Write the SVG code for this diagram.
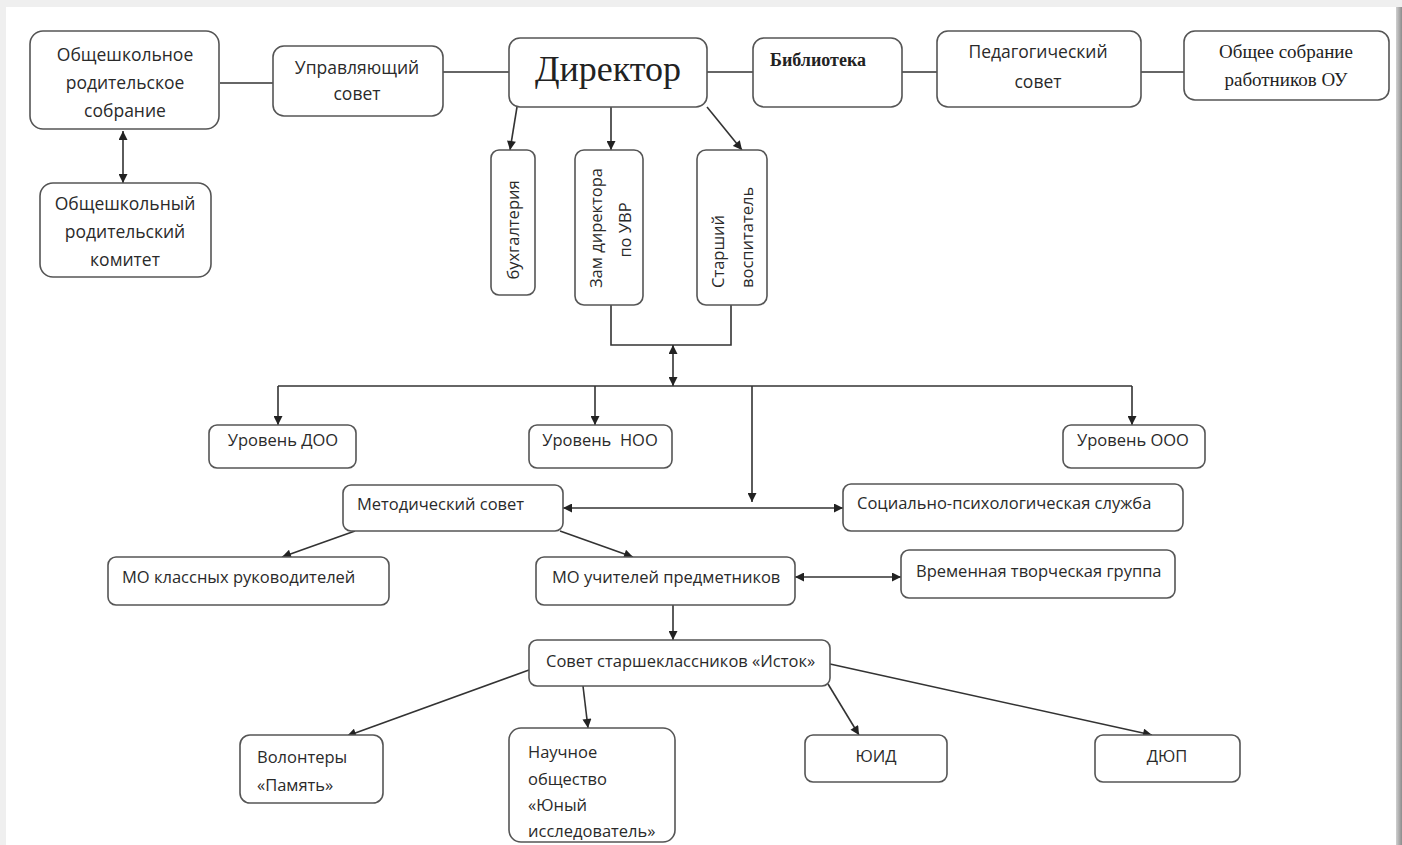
<svg xmlns="http://www.w3.org/2000/svg" width="1402" height="845" viewBox="0 0 1402 845">
<defs>
<linearGradient id="rs" x1="0" y1="0" x2="1" y2="0">
<stop offset="0" stop-color="#d0d0d0"/><stop offset="1" stop-color="#8c8c8c"/>
</linearGradient>
<marker id="ah" viewBox="0 0 10 10" refX="10" refY="5" markerWidth="10" markerHeight="9" markerUnits="userSpaceOnUse" orient="auto-start-reverse">
<path d="M0,0 L10,5 L0,10 z" fill="#222"/>
</marker>
<style>
.b{fill:#fff;stroke:#555;stroke-width:1.6}
.t{font-family:"Open Sans","Noto Sans",sans-serif;font-size:16.5px;fill:#2a2a2a}
.k{font-size:17.5px}
.c{text-anchor:middle}
.s{font-family:"Liberation Serif","DejaVu Serif",serif;fill:#222}
.l{stroke:#333;stroke-width:1.6;fill:none}
.a{marker-end:url(#ah)}
.d{marker-start:url(#ah);marker-end:url(#ah)}
</style>
</defs>
<rect x="0" y="0" width="1402" height="845" fill="#efefef"/>
<rect x="6" y="7" width="1390" height="838" fill="#fff"/>
<rect x="1396" y="7" width="6" height="838" fill="url(#rs)"/>

<g id="connectors">
<line class="l" x1="220" y1="83" x2="273" y2="83"/>
<line class="l" x1="443" y1="72" x2="509" y2="72"/>
<line class="l" x1="707" y1="72" x2="753" y2="72"/>
<line class="l" x1="902" y1="72" x2="937" y2="72"/>
<line class="l" x1="1141" y1="72" x2="1184" y2="72"/>
<line class="l d" x1="123" y1="131" x2="123" y2="183"/>
<line class="l a" x1="517" y1="107" x2="510" y2="150"/>
<line class="l a" x1="611" y1="107" x2="611" y2="150"/>
<line class="l a" x1="707" y1="107" x2="742" y2="150"/>
<polyline class="l" points="611,305 611,345 731,345 731,305"/>
<line class="l d" x1="673" y1="345" x2="673" y2="386"/>
<line class="l" x1="278" y1="386" x2="1132" y2="386"/>
<line class="l a" x1="278" y1="386" x2="278" y2="425"/>
<line class="l a" x1="595" y1="386" x2="595" y2="425"/>
<line class="l a" x1="1132" y1="386" x2="1132" y2="425"/>
<line class="l a" x1="752" y1="386" x2="752" y2="502"/>
<line class="l d" x1="563" y1="508" x2="843" y2="508"/>
<line class="l a" x1="355" y1="531" x2="282" y2="557"/>
<line class="l a" x1="560" y1="531" x2="633" y2="557"/>
<line class="l d" x1="795" y1="577" x2="901" y2="577"/>
<line class="l a" x1="673" y1="605" x2="673" y2="640"/>
<line class="l a" x1="529" y1="670" x2="347" y2="736"/>
<line class="l a" x1="583" y1="686" x2="588" y2="728"/>
<line class="l a" x1="828" y1="684" x2="859" y2="735"/>
<line class="l a" x1="830" y1="664" x2="1152" y2="735"/>
</g>

<g id="n1"><rect class="b" x="30" y="31" width="189" height="98" rx="13"/>
<text class="t k c" x="125" y="61">Общешкольное</text><text class="t k c" x="125" y="89">родительское</text><text class="t k c" x="125" y="117">собрание</text></g>
<g id="n2"><rect class="b" x="40" y="183" width="171" height="94" rx="13"/>
<text class="t k c" x="125" y="210">Общешкольный</text><text class="t k c" x="125" y="238">родительский</text><text class="t k c" x="125" y="266">комитет</text></g>
<g id="n3"><rect class="b" x="273" y="46" width="170" height="70" rx="11"/>
<text class="t k c" x="357" y="74">Управляющий</text><text class="t k c" x="357" y="100">совет</text></g>
<g id="n4"><rect class="b" x="509" y="38" width="198" height="69" rx="11"/>
<text class="s c" x="608" y="81" font-size="36">Директор</text></g>
<g id="n5"><rect class="b" x="753" y="38" width="149" height="69" rx="11"/>
<text class="s" x="770" y="66" font-size="18" font-weight="bold">Библиотека</text></g>
<g id="n6"><rect class="b" x="937" y="31" width="204" height="76" rx="11"/>
<text class="t k c" x="1038" y="58">Педагогический</text><text class="t k c" x="1038" y="88">совет</text></g>
<g id="n7"><rect class="b" x="1184" y="31" width="205" height="69" rx="11"/>
<text class="s c" x="1286" y="58" font-size="19">Общее собрание</text><text class="s c" x="1286" y="86" font-size="19">работников ОУ</text></g>
<g id="n8"><rect class="b" x="491" y="150" width="44" height="145" rx="8"/>
<text class="t c" transform="translate(514,230) rotate(-90)" x="0" y="5">бухгалтерия</text></g>
<g id="n9"><rect class="b" x="575" y="150" width="68" height="155" rx="9"/>
<text class="t c" transform="translate(597,228) rotate(-90)" x="0" y="5">Зам директора</text>
<text class="t c" transform="translate(626,230) rotate(-90)" x="0" y="5">по УВР</text></g>
<g id="n10"><rect class="b" x="697" y="150" width="70" height="155" rx="9"/>
<text class="t" transform="translate(719,288) rotate(-90)" x="0" y="5">Старший</text>
<text class="t" transform="translate(748,288) rotate(-90)" x="0" y="5">воспитатель</text></g>
<g id="n11"><rect class="b" x="209" y="425" width="147" height="43" rx="8"/>
<text class="t c" x="283" y="446">Уровень ДОО</text></g>
<g id="n12"><rect class="b" x="529" y="425" width="143" height="43" rx="8"/>
<text class="t c" x="600" y="446" xml:space="preserve">Уровень  НОО</text></g>
<g id="n13"><rect class="b" x="1063" y="425" width="142" height="43" rx="8"/>
<text class="t c" x="1133" y="446">Уровень ООО</text></g>
<g id="n14"><rect class="b" x="343" y="485" width="220" height="46" rx="8"/>
<text class="t" x="357" y="510">Методический совет</text></g>
<g id="n15"><rect class="b" x="843" y="484" width="340" height="47" rx="8"/>
<text class="t" x="857" y="509">Социально-психологическая служба</text></g>
<g id="n16"><rect class="b" x="108" y="557" width="281" height="48" rx="8"/>
<text class="t" x="122" y="583">МО классных руководителей</text></g>
<g id="n17"><rect class="b" x="536" y="557" width="259" height="48" rx="8"/>
<text class="t" x="552" y="583">МО учителей предметников</text></g>
<g id="n18"><rect class="b" x="901" y="550" width="274" height="48" rx="8"/>
<text class="t" x="916" y="577">Временная творческая группа</text></g>
<g id="n19"><rect class="b" x="529" y="640" width="301" height="46" rx="8"/>
<text class="t" x="546" y="667">Совет старшеклассников «Исток»</text></g>
<g id="n20"><rect class="b" x="240" y="735" width="143" height="68" rx="10"/>
<text class="t" x="257" y="763">Волонтеры</text><text class="t" x="257" y="791">«Память»</text></g>
<g id="n21"><rect class="b" x="509" y="728" width="166" height="114" rx="12"/>
<text class="t" x="528" y="758">Научное</text><text class="t" x="528" y="785">общество</text><text class="t" x="528" y="811">«Юный</text><text class="t" x="528" y="837">исследователь»</text></g>
<g id="n22"><rect class="b" x="805" y="735" width="142" height="47" rx="8"/>
<text class="t c" x="876" y="762">ЮИД</text></g>
<g id="n23"><rect class="b" x="1095" y="735" width="145" height="47" rx="8"/>
<text class="t c" x="1167" y="762">ДЮП</text></g>
</svg>
